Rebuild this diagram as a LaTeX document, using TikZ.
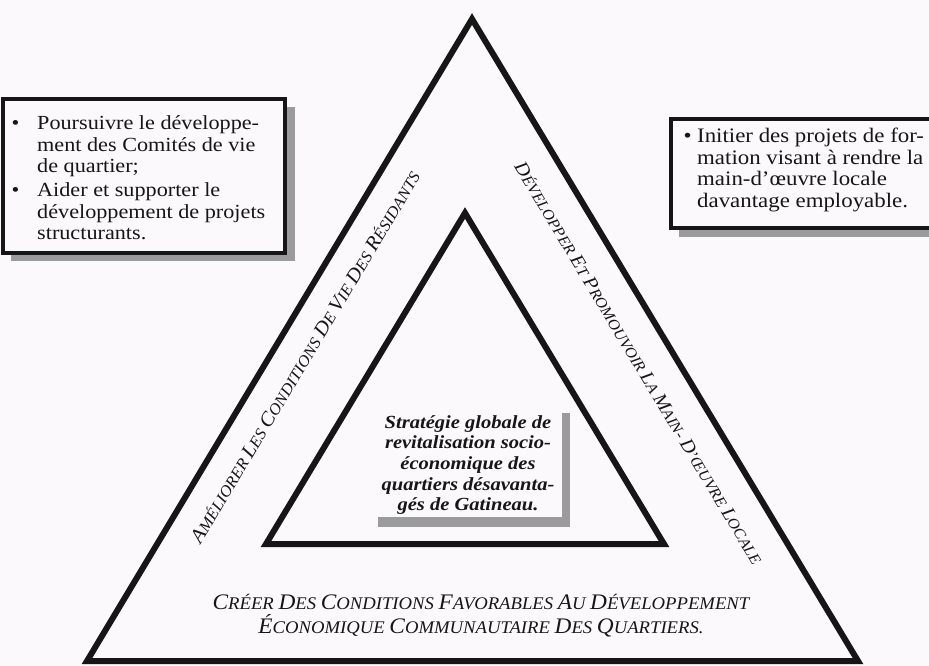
\documentclass[tikz,border=0pt]{standalone}
\usepackage{fontspec}
\setmainfont{Liberation Serif}
\newfontfamily\boxfont[FakeStretch=1.11]{Liberation Serif}
\newfontfamily\capfont[FakeStretch=1.05]{Liberation Serif}
\definecolor{bg}{RGB}{251,249,251}
\definecolor{shadowgray}{RGB}{155,155,157}
\definecolor{inkblack}{RGB}{22,22,22}
\newcommand\bigsc{20}
\newcommand\smsc{16}
\newcommand\scw[2]{{\fontsize{\bigsc}{\bigsc}\selectfont #1}{\fontsize{\smsc}{\smsc}\selectfont #2}}
\newcommand\capsize[3]{\renewcommand\bigsc{#1}\renewcommand\smsc{#2}\fontsize{#2}{#3}\selectfont}
\begin{document}
\begin{tikzpicture}[x=1pt,y=-1pt,
  tri/.style={draw=inkblack, line width=6pt, line join=miter, miter limit=10},
  bx/.style={draw=inkblack, line width=3.5pt, fill=bg},
  shd/.style={fill=shadowgray, draw=none},
  bodytxt/.style={inner sep=0pt, text=inkblack, font=\boxfont\fontsize{20}{21.7}\selectfont},
  midtxt/.style={inner sep=0pt, text=inkblack, align=center, font=\boxfont\bfseries\itshape\fontsize{18.5}{20.7}\selectfont},
  sidetxt/.style={inner sep=0pt, text=inkblack, font=\capfont\itshape},
  basetxt/.style={inner sep=0pt, text=inkblack, align=center, font=\capfont\itshape\capsize{22.2}{17.8}{24}}
]
\useasboundingbox[fill=bg] (0,0) rectangle (929,666);

% outer triangle
\coordinate (oA) at (472,19);
\coordinate (oL) at (87,661);
\coordinate (oR) at (858,661);
\draw[tri] (oA) -- (oR) -- (oL) -- cycle;

% inner triangle
\coordinate (iA) at (465,213);
\coordinate (iL) at (266,544);
\coordinate (iR) at (664,544);
\draw[tri] (iA) -- (iR) -- (iL) -- cycle;

% left box
\fill[shd] (11,107) rectangle (295,261);
\draw[bx] (3,99) rectangle (285,253);
\node[bodytxt, anchor=north west] (lefttext) at (11.5,114) {%
\begin{tabular}{@{}p{25.5pt}@{}l@{}}
\textbullet & Poursuivre le développe-\\
 & ment des Comités de vie\\
 & de quartier;\\[2pt]
\textbullet & Aider et supporter le\\
 & développement de projets\\
 & structurants.
\end{tabular}};

% right box
\fill[shd] (679,128) rectangle (945,237);
\draw[bx] (671,119) rectangle (940,228);
\node[bodytxt, anchor=north west, font=\boxfont\fontsize{20.6}{21.7}\selectfont] (righttext) at (683.5,127) {%
\begin{tabular}{@{}p{13.5pt}@{}l@{}}
\textbullet & Initier des projets de for-\\
 & mation visant à rendre la\\
 & main-d’œuvre locale\\
 & davantage employable.
\end{tabular}};

% centre box
\fill[shd] (378,413) rectangle (570,527);
\fill[bg] (370,405) rectangle (562,517);
\node[midtxt] (centretext) at (468,465) {Stratégie globale de\\revitalisation socio-\\économique des\\quartiers désavanta-\\gés de Gatineau.};

% side labels
\node[sidetxt, rotate=59.1] (leftlabel) at (305,357)
  {\capsize{20}{16}{16}\scw{A}{MÉLIORER} \scw{L}{ES} \scw{C}{ONDITIONS} \scw{D}{E} \scw{V}{IE} \scw{D}{ES} \scw{R}{ÉSIDANTS}};
\node[sidetxt, rotate=-59.1] (rightlabel) at (639,363)
  {\capsize{19.2}{15.4}{15.4}\scw{D}{ÉVELOPPER} \scw{E}{T} \scw{P}{ROMOUVOIR} \scw{L}{A} \scw{M}{AIN}- \scw{D}{’ŒUVRE} \scw{L}{OCALE}};

% base label
\node[basetxt] (baselabel) at (481,616)
  {\scw{C}{RÉER} \scw{D}{ES} \scw{C}{ONDITIONS} \scw{F}{AVORABLES} \scw{A}{U} \scw{D}{ÉVELOPPEMENT}\\
   \scw{É}{CONOMIQUE} \scw{C}{OMMUNAUTAIRE} \scw{D}{ES} \scw{Q}{UARTIERS}.};
\end{tikzpicture}
\end{document}
